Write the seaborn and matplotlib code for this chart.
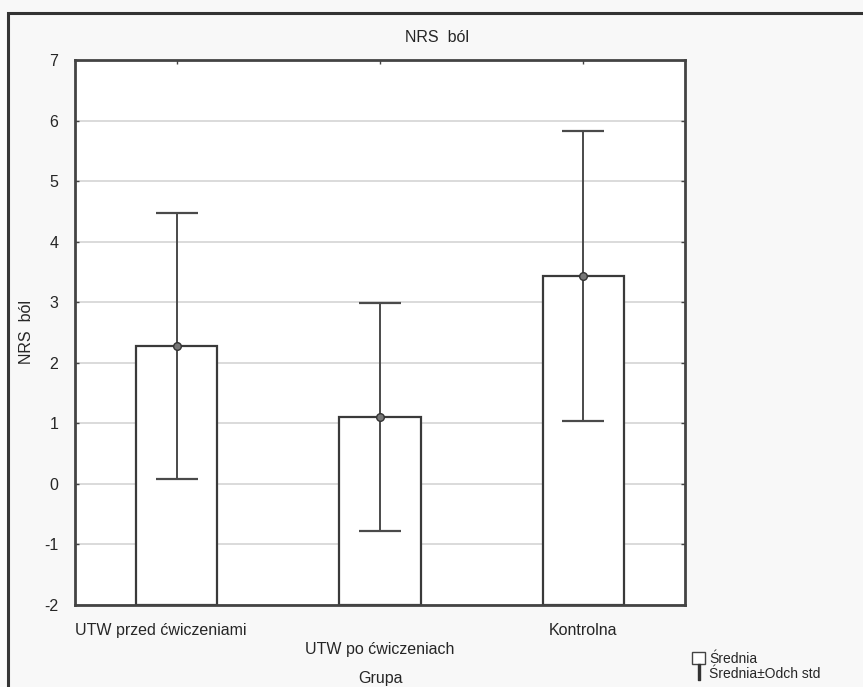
import numpy as np
import pandas as pd
import matplotlib
matplotlib.use("Agg")
import matplotlib.pyplot as plt
import matplotlib.transforms as mtransforms
import seaborn as sns
from matplotlib.patches import Patch, Rectangle
from matplotlib.lines import Line2D

grupy = ["UTW przed ćwiczeniami", "UTW po ćwiczeniach", "Kontrolna"]
srednie = [2.28, 1.11, 3.43]
odch_std = [2.20, 1.88, 2.39]
y_ticks = [-2, -1, 0, 1, 2, 3, 4, 5, 6, 7]

sns.set_style("white")
plt.rcParams["font.family"] = ["Liberation Sans", "DejaVu Sans"]
plt.rcParams["axes.unicode_minus"] = False

y_min, y_max = -2, 7
df = pd.DataFrame({"Grupa": grupy, "wys": np.array(srednie) - y_min})

fig = plt.figure(figsize=(8.63, 6.87), dpi=100, facecolor="#f8f8f8")
ax = fig.add_axes([75 / 863, 1 - 605 / 687, 610 / 863, 545 / 687])
ax.set_facecolor("white")

# slupki od dolnej krawedzi osi do sredniej (jak w Statistica)
sns.barplot(data=df, x="Grupa", y="wys", bottom=y_min, width=0.4,
            color="white", edgecolor="#3a3a3a", linewidth=1.6,
            errorbar=None, ax=ax, zorder=2)

ax.errorbar(np.arange(len(grupy)), srednie, yerr=odch_std, fmt="o",
            color="#4a4a4a", ecolor="#4a4a4a", elinewidth=1.4, capsize=15,
            capthick=1.6, markersize=5.5, markerfacecolor="#777777",
            markeredgecolor="#333333", zorder=3)

ax.set_ylim(y_min, y_max)
ax.set_xlim(-0.5, 2.5)
ax.set_yticks(y_ticks)
ax.yaxis.grid(True, color="#d4d4d4", linewidth=1.2, zorder=0)
ax.set_axisbelow(True)
for s in ax.spines.values():
    s.set_color("#444444")
    s.set_linewidth(2)
    s.set_visible(True)

ax.tick_params(axis="both", direction="in", length=3, width=1, color="#444444",
               top=True, right=True, bottom=True, left=True, labelsize=11.5)
ax.tick_params(axis="y", pad=12)
ax.set_xticks(range(len(grupy)))
ax.set_xticklabels(grupy)
for i, t in enumerate(ax.get_xticklabels()):
    t.set_y(-0.024 if i != 1 else -0.059)
# pierwsza etykieta przesunieta w lewo, jak w oryginale
lab0 = ax.get_xticklabels()[0]
lab0.set_transform(lab0.get_transform() +
                   mtransforms.ScaledTranslation(-0.16, 0, fig.dpi_scale_trans))
ax.set_xlabel("Grupa", fontsize=11.5)
ax.xaxis.set_label_coords(0.5, -0.122)
ax.set_ylabel("NRS  ból", fontsize=11.5)
ax.yaxis.set_label_coords(-0.068, 0.5)
fig.text(437 / 863, 1 - 38 / 687, "NRS  ból", ha="center", va="center", fontsize=11.5)

# legenda w prawym dolnym rogu
handles = [Patch(facecolor="white", edgecolor="#444444"),
           Line2D([], [], linestyle="none", marker=r"$\mathrm{I}$", markersize=11,
                  color="#333333")]
labels = ["Średnia", "Średnia±Odch std"]
fig.legend(handles, labels, loc="lower left", bbox_to_anchor=(684 / 863, -0.003),
           frameon=False, fontsize=10, handlelength=0.9, handleheight=0.9,
           handletextpad=0.3, labelspacing=0.05, borderaxespad=0.2)

# ramka wokol calego wykresu
fig.add_artist(Rectangle((8 / 863, -0.2), 1.2, 1.2 - 13 / 687, transform=fig.transFigure,
                         fill=False, edgecolor="#333333", linewidth=2.2, clip_on=False))

fig.savefig("out.png", dpi=100, facecolor=fig.get_facecolor())
